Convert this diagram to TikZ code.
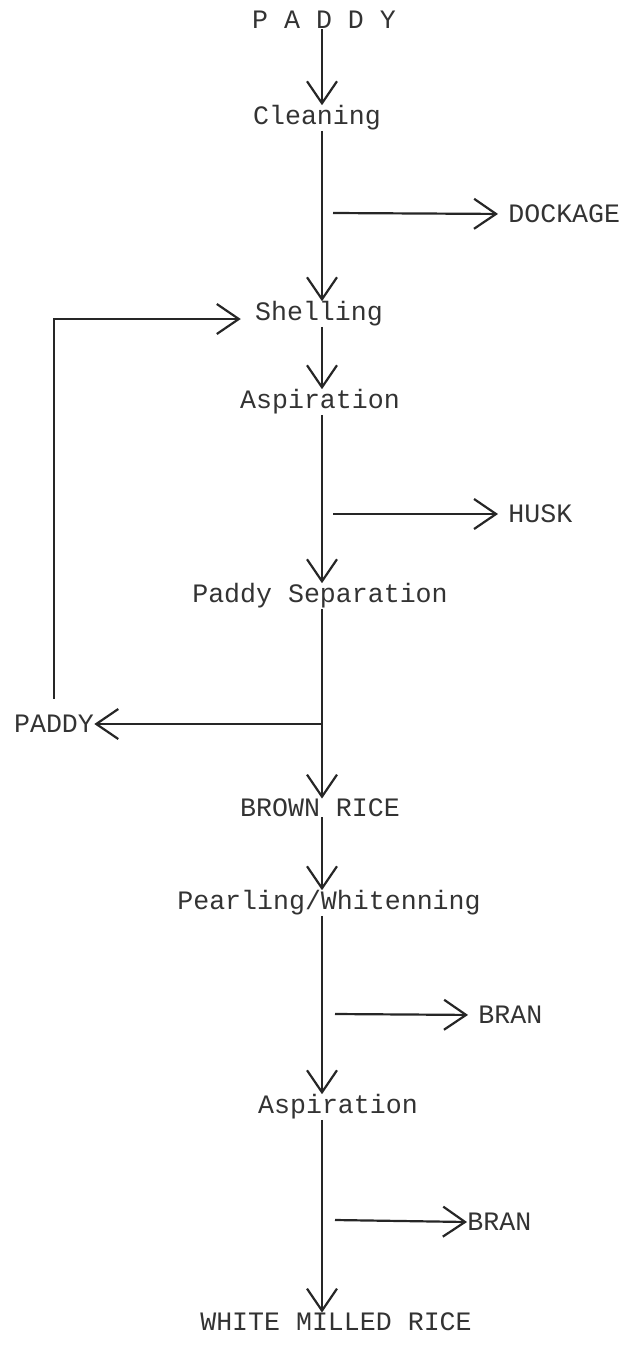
\documentclass[tikz,border=0pt]{standalone}
\usepackage{fontspec}
\setmonofont{Liberation Mono}
\usetikzlibrary{arrows.meta, positioning}

\tikzset{
  stage/.style={font=\ttfamily\fontsize{13.3}{16}\selectfont, text=black!80, inner sep=0pt},
  flow/.style={draw=black!85, line width=1.1pt, -{Straight Barb[length=11pt,width=15pt,line width=1.1pt]}},
  sideflow/.style={flow, shorten >=5pt},
}

\begin{document}
\begin{tikzpicture}[x=0.5pt, y=-0.5pt]
\useasboundingbox (0,0) rectangle (633,1345);
% the main line of the mill
\coordinate (spine) at (322,0);

\node[stage] (paddy) at (324,20) {P A D D Y};
\node[stage] (clean) at (317,118) {Cleaning};
\node[stage] (shell) at (319,314) {Shelling};
\node[stage] (asp1) at (320,402) {Aspiration};
\node[stage] (psep) at (320,596) {Paddy Separation};
\node[stage] (brown) at (320,808) {BROWN RICE};
\node[stage] (pearl) at (329,903) {Pearling/Whitenning};
\node[stage] (asp2) at (338,1107) {Aspiration};
\node[stage] (white) at (336,1322) {WHITE MILLED RICE};

% by-products
\node[stage, anchor=west] (dockage) at (508,214) {DOCKAGE};
\node[stage, anchor=west] (husk) at (508,514) {HUSK};
\node[stage, anchor=west] (bran1) at (478,1015) {BRAN};
\node[stage, anchor=west] (bran2) at (467,1222) {BRAN};
\node[stage] (paddyback) at (54,724) {PADDY};

\coordinate (dockfork) at (333,213);
\coordinate (huskfork) at (333,514);
\coordinate (bran1fork) at (335,1014);
\coordinate (bran2fork) at (335,1220);

\draw[flow] (paddy.south -| spine) -- (clean.north -| spine);
\draw[flow] (clean.south -| spine) -- (shell.north -| spine);
\draw[flow] (shell.south -| spine) -- (asp1.north -| spine);
\draw[flow] (asp1.south -| spine) -- (psep.north -| spine);
\draw[flow] (psep.south -| spine) -- (brown.north -| spine);
\draw[flow] (brown.south -| spine) -- (pearl.north -| spine);
\draw[flow] (pearl.south -| spine) -- (asp2.north -| spine);
\draw[flow] (asp2.south -| spine) -- (white.north -| spine);

\draw[sideflow] (dockfork) -- (dockage.west);
\draw[sideflow] (huskfork) -- (husk.west);
\draw[sideflow] (bran1fork) -- (bran1.west);
\draw[flow] (bran2fork) -- (bran2.west);

% unshelled paddy goes back
\draw[flow, line width=1.3pt] (spine |- paddyback) -- (paddyback.east);
\draw[flow, shorten <=8pt, shorten >=7pt] (paddyback.north) |- ([yshift=-2.5pt]shell.west);
\end{tikzpicture}
\end{document}
